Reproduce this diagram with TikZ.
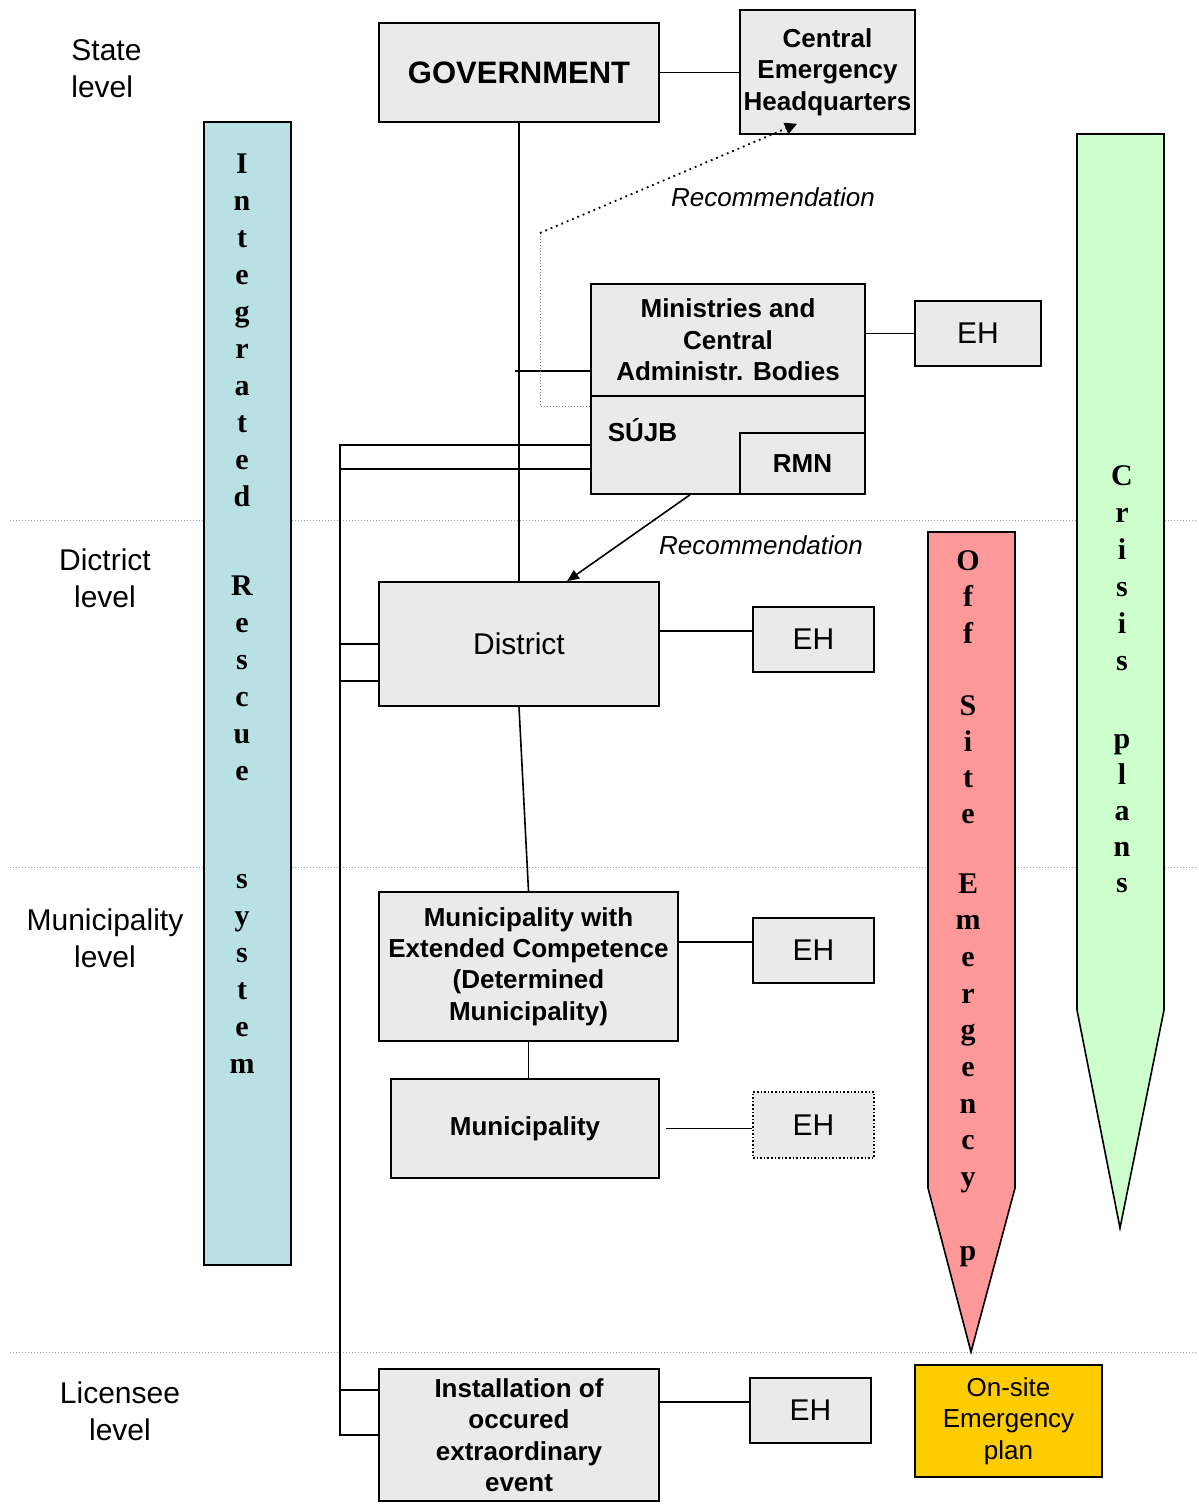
\documentclass[tikz,border=0pt]{standalone}
\usepackage{fontspec}
\setmainfont{Liberation Sans}
\newfontfamily\columnfont{Liberation Serif}
\usetikzlibrary{arrows.meta}
\definecolor{OrgBoxFill}{HTML}{EAEAEA}
\definecolor{OrgRescue}{HTML}{B9E1E3}
\definecolor{OrgCrisis}{HTML}{CCFFCC}
\definecolor{OrgOffSite}{HTML}{FF9999}
\definecolor{OrgOnSite}{HTML}{FFCC00}
\definecolor{OrgRule}{HTML}{A0A0A0}

\begin{document}
\begin{tikzpicture}[
    x=0.5pt, y=-0.5pt,
    font=\fontsize{15}{18.5}\selectfont,
    unit/.style={draw=black, fill=OrgBoxFill, line width=0.8pt,
                 inner sep=0pt, align=center},
    unit text/.style={font=\fontsize{13}{15.7}\selectfont\bfseries},
    eh/.style={unit, minimum width=60.5pt, minimum height=32.5pt},
    level label/.style={align=center},
    level rule/.style={draw=OrgRule, densely dotted, line width=0.5pt},
    link/.style={draw=black, line width=0.8pt},
    band/.style={draw=black, line width=0.8pt},
    band letter/.style={font=\columnfont\fontsize{15}{18}\selectfont\bfseries,
                        anchor=base, inner sep=0pt},
    advice/.style={font=\fontsize{13}{15.7}\selectfont\itshape},
    advice arrow/.style={link, -{Triangle[length=6pt,width=5pt]}},
    advice dots/.style={draw=black, dotted, line width=0.9pt,
                        -{Triangle[length=6pt,width=6pt]}}
]
    \useasboundingbox (0,0) rectangle (1199,1505);

    % level separators
    \foreach \y in {520,867,1352} {
        \draw[level rule] (10,\y) -- (1197,\y);
    }

    % Integrated Rescue system band
    \filldraw[band, fill=OrgRescue] (204,122) rectangle (291,1265);
    \foreach \ch [count=\i from 0] in {I,n,t,e,g,r,a,t,e,d}
        \node[band letter] (irs-a\i) at (242,{173+37*\i}) {\ch};
    \foreach \ch [count=\i from 0] in {R,e,s,c,u,e}
        \node[band letter] (irs-b\i) at (242,{595+37*\i}) {\ch};
    \foreach \ch [count=\i from 0] in {s,y,s,t,e,m}
        \node[band letter] (irs-c\i) at (242,{888+37*\i}) {\ch};

    % Crisis plans band
    \filldraw[band, fill=OrgCrisis] (1077,134) -- (1164,134) -- (1164,1010)
        -- (1120,1228) -- (1077,1010) -- cycle;
    \foreach \ch [count=\i from 0] in {C,r,i,s,i,s}
        \node[band letter] (cp-a\i) at (1122,{485+37*\i}) {\ch};
    \foreach \ch [count=\i from 0] in {p,l,a,n,s}
        \node[band letter] (cp-b\i) at (1122,{748+36*\i}) {\ch};

    % Off Site Emergency plan band
    \filldraw[band, fill=OrgOffSite] (928,532) -- (1015,532) -- (1015,1188)
        -- (971,1352) -- (928,1188) -- cycle;
    \foreach \ch [count=\i from 0] in {O,f,f}
        \node[band letter] (ose-a\i) at (968,{570+36.5*\i}) {\ch};
    \foreach \ch [count=\i from 0] in {S,i,t,e}
        \node[band letter] (ose-b\i) at (968,{715+36*\i}) {\ch};
    \foreach \ch [count=\i from 0] in {E,m,e,r,g,e,n,c,y}
        \node[band letter] (ose-c\i) at (968,{893+36.7*\i}) {\ch};
    \node[band letter] (ose-d0) at (968,1260) {p};

    % level labels
    \node[level label, align=left, anchor=west, inner sep=0pt] (state level)
        at (71,68.5) {State\\level};
    \node[level label] (district level) at (105,578.5) {Dictrict\\level};
    \node[level label] (muni level) at (105,938.5) {Municipality\\level};
    \node[level label] (licensee level) at (120,1411.5) {Licensee\\level};

    % state level
    \node[unit, minimum width=140pt, minimum height=49.5pt,
          font=\fontsize{15.5}{18}\selectfont\bfseries] (gov) at (519,72.5)
        {GOVERNMENT};
    \node[unit, unit text, minimum width=87.5pt, minimum height=62pt]
        (ceh) at (827.5,72) {Central\\Emergency\\Headquarters};
    \node[unit, unit text, minimum width=137pt, minimum height=56pt]
        (mcab) at (728,340) {Ministries and\\Central\\Administr. Bodies};
    \node[unit, minimum width=137pt, minimum height=49pt] (sujb) at (728,445) {};
    \node[unit, unit text, minimum width=62.5pt, minimum height=30.5pt]
        (rmn) at (802.5,463.5) {RMN};
    \node[unit text, inner sep=0pt] (sujb label) at (642.5,430) {SÚJB};
    \node[eh, minimum width=63pt] (eh mcab) at (978,333.5) {EH};

    % district level
    \node[unit, minimum width=140pt, minimum height=62pt] (district)
        at (519,644) {District};
    \node[eh] (eh district) at (813.5,639.5) {EH};

    % municipality level
    \node[unit, unit text, minimum width=149.5pt, minimum height=74.5pt]
        (mec) at (528.5,966.5)
        {Municipality with\\Extended Competence\\(Determined\\Municipality)};
    \node[eh] (eh mec) at (813.5,950.5) {EH};
    \node[unit, unit text, minimum width=134pt, minimum height=49.5pt]
        (muni) at (525,1128.5) {Municipality};
    \node[eh, densely dotted, minimum height=33pt] (eh muni) at (813.5,1125) {EH};

    % licensee level
    \node[unit, unit text, minimum width=140pt, minimum height=66pt]
        (inst) at (519,1435)
        {Installation of\\occured\\extraordinary\\event};
    \node[eh] (eh inst) at (810.5,1410.5) {EH};
    \node[unit, fill=OrgOnSite, font=\fontsize{13}{15.7}\selectfont,
          minimum width=93.5pt, minimum height=56pt] (onsite) at (1008.5,1421)
        {On-site\\Emergency\\plan};

    % hierarchy links
    \draw[link] (gov.east) -- (gov.east -| ceh.west);
    \draw[link] (gov.south) -- (district.north);
    \coordinate (mcab stub) at (515,371);
    \draw[link] (mcab stub) -- (mcab stub -| mcab.west);
    \draw[link] (eh mcab.west -| mcab.east) -- (eh mcab.west);
    \draw[link] (district.south) -- (mec.north);
    \draw[link] (mec.south) -- (mec.south |- muni.north);

    % SUJB bus down to the installation
    \coordinate (bus top) at (340,445);
    \draw[link] (sujb.west) -- (bus top) |- (inst.west);
    \draw[link] ([yshift=-12pt]sujb.west) -- ([yshift=-12pt]sujb.west -| bus top);
    \draw[link] (district.west) -- (district.west -| bus top);
    \draw[link] ([yshift=-18.5pt]district.west)
        -- ([yshift=-18.5pt]district.west -| bus top);
    \draw[link] ([yshift=22.5pt]inst.west) -- ([yshift=22.5pt]inst.west -| bus top);

    % EH links
    \draw[link] ([yshift=4.25pt]eh district.west)
        -- ([yshift=4.25pt]eh district.west -| district.east);
    \draw[link] ([yshift=4.25pt]eh mec.west)
        -- ([yshift=4.25pt]eh mec.west -| mec.east);
    \draw[link] ([xshift=3pt]muni.east) -- (muni.east -| eh muni.west);
    \draw[link] ([yshift=4.25pt]eh inst.west)
        -- ([yshift=4.25pt]eh inst.west -| inst.east);

    % recommendations
    \coordinate (advice bend) at (540,233);
    \draw[level rule, draw=gray] ([yshift=-5.5pt]sujb.north west) -| (advice bend);
    \draw[advice dots] (advice bend) -- ([xshift=-15.25pt,yshift=5.5pt]ceh.south);
    \node[advice] (advice top) at (773,197) {Recommendation};
    \draw[advice arrow] ([xshift=-19pt]sujb.south) -- ([xshift=24pt]district.north);
    \node[advice] (advice low) at (761,545) {Recommendation};
\end{tikzpicture}
\end{document}
